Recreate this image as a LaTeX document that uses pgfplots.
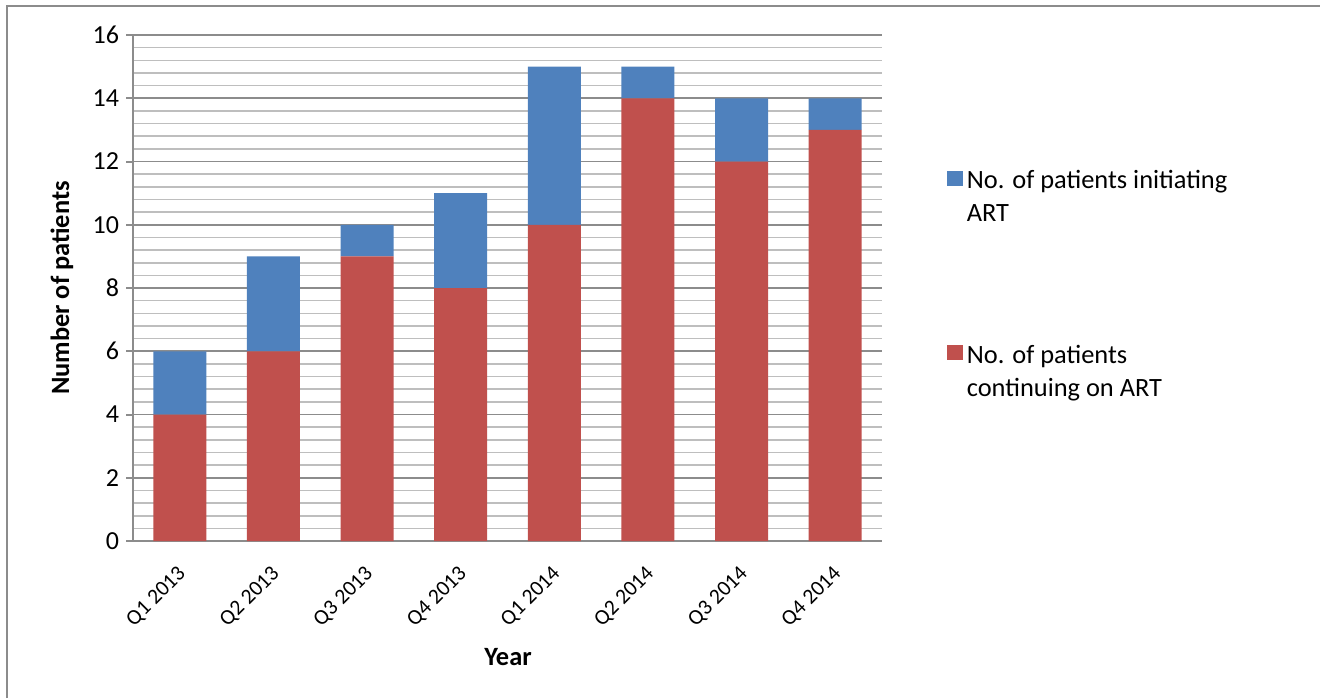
\documentclass[border=0pt]{standalone}
\usepackage{fontspec}
\setmainfont{Carlito}
\usepackage{pgfplots}
\pgfplotsset{compat=1.18}
\definecolor{xlblue}{HTML}{4F81BD}
\definecolor{xlred}{HTML}{C0504D}
\definecolor{majgrid}{HTML}{8C8C8C}
\definecolor{mingrid}{HTML}{BEBEBE}
\begin{document}
\begin{tikzpicture}
\useasboundingbox (0,0) rectangle (660pt,349pt);
\draw[majgrid, line width=1pt] (3.5pt,0) -- (3.5pt,346pt) -- (660pt,346pt);
\begin{axis}[
  at={(66.5pt,78.5pt)}, anchor=south west,
  scale only axis, width=374.5pt, height=253pt,
  ybar stacked, bar width=26.5pt,
  xmin=-0.5, xmax=7.5, ymin=0, ymax=16,
  xtick=data,
  xticklabels={Q1 2013,Q2 2013,Q3 2013,Q4 2013,Q1 2014,Q2 2014,Q3 2014,Q4 2014},
  x tick label style={rotate=45, anchor=north east, font=\fontsize{10.8}{12}\selectfont, inner sep=1pt, yshift=-3.6pt, xshift=-5.9pt},
  ytick={0,2,...,16},
  minor y tick num=4,
  y tick label style={font=\fontsize{13}{15}\selectfont},
  /pgf/number format/assume math mode=true,
  axis x line*=bottom, axis y line*=left,
  axis line style={majgrid, line width=1pt, -},
  tick align=outside,
  major tick length=3.5pt, minor tick length=0pt,
  xtick style={draw=none},
  ytick style={majgrid, line width=1pt},
  ymajorgrids, yminorgrids,
  major grid style={majgrid, line width=0.9pt},
  minor grid style={mingrid, line width=0.8pt},
  xlabel={Year}, ylabel={Number of patients},
  xlabel style={font=\fontsize{13.2}{15}\selectfont\bfseries, at={(axis description cs:0.5007,-0.229)}, anchor=center},
  ylabel style={font=\fontsize{13.2}{15}\selectfont\bfseries, at={(axis description cs:-0.0948,0.5)}, anchor=center},
  reverse legend,
  legend style={at={(axis description cs:1.078,0.758)}, anchor=north west, draw=none, fill=none,
    font=\fontsize{13.2}{16.5}\selectfont, row sep=70pt,
    /tikz/every even column/.append style={column sep=2pt}},
  legend cell align=left,
  legend image code/.code={\fill[#1] (0pt,-3.5pt) rectangle (8pt,4pt);},
]
\addplot[fill=xlred, draw=none] coordinates {(0,4) (1,6) (2,9) (3,8) (4,10) (5,14) (6,12) (7,13)};
\addlegendentry{\begin{tabular}[t]{@{}l@{}}No. of patients\\continuing on ART\end{tabular}}
\addplot[fill=xlblue, draw=none] coordinates {(0,2) (1,3) (2,1) (3,3) (4,5) (5,1) (6,2) (7,1)};
\addlegendentry{\begin{tabular}[t]{@{}l@{}}No. of patients initiating\\ART\end{tabular}}
\end{axis}
\end{tikzpicture}
\end{document}
